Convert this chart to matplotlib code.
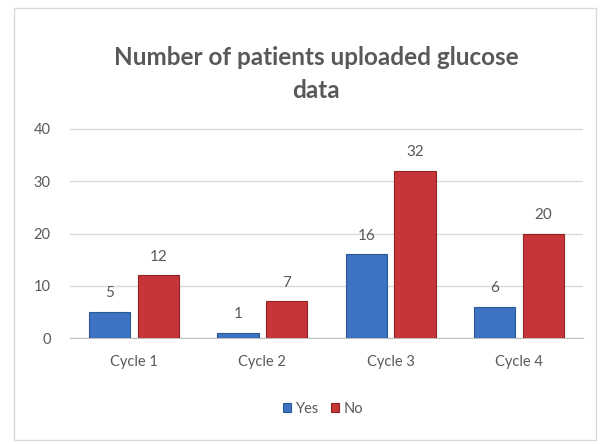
import matplotlib.pyplot as plt
import numpy as np
from matplotlib.patches import Rectangle

categories = ["Cycle 1", "Cycle 2", "Cycle 3", "Cycle 4"]
yes_values = [5, 1, 16, 6]
no_values = [12, 7, 32, 20]
series_names = ["Yes", "No"]

BLUE = "#3d73c2"
BLUE_EDGE = "#2b5897"
RED = "#c73539"
RED_EDGE = "#8e2225"
TEXT = "#595959"

plt.rcParams["font.family"] = ["Lato", "DejaVu Sans"]

fig = plt.figure(figsize=(6, 4.44), dpi=100)
ax = fig.add_axes([70 / 600, 1 - 338 / 444, 513 / 600, 209 / 444 * 44 / 40])

x = np.arange(len(categories))
width = 0.32
offset = 0.19

bars_yes = ax.bar(x - offset, yes_values, width, color=BLUE, edgecolor=BLUE_EDGE,
                  linewidth=0.8, label=series_names[0], zorder=3)
bars_no = ax.bar(x + offset, no_values, width, color=RED, edgecolor=RED_EDGE,
                 linewidth=0.8, label=series_names[1], zorder=3)

for bars in (bars_yes, bars_no):
    for bar in bars:
        h = bar.get_height()
        ax.text(bar.get_x() + bar.get_width() / 2, h + 2.2, f"{h:g}",
                ha="center", va="bottom", fontsize=11, color=TEXT)

ax.set_xlim(-0.5, len(categories) - 0.5)
ax.set_ylim(0, 44)
ax.set_yticks([0, 10, 20, 30, 40])
ax.set_xticks(x)
ax.set_xticklabels(categories)
ax.tick_params(axis="both", length=0, labelsize=10.5, colors=TEXT)
ax.tick_params(axis="y", pad=14)
ax.tick_params(axis="x", pad=12)
ax.grid(axis="y", color="#d9d9d9", linewidth=1, zorder=0)
for side in ["top", "right", "left"]:
    ax.spines[side].set_visible(False)
ax.spines["bottom"].set_color("#bfbfbf")

fig.text(316 / 600, 1 - 74 / 444, "Number of patients uploaded glucose\ndata",
         ha="center", va="center", fontsize=17.5, fontweight="bold", color=TEXT,
         linespacing=1.5)

fig.legend(loc="center", bbox_to_anchor=(323 / 600, 1 - 409 / 444), ncol=2,
           frameon=False, fontsize=10.5, handlelength=0.6, handleheight=0.6,
           handletextpad=0.3, columnspacing=0.8, labelcolor=TEXT)

fig.patches.append(Rectangle((14 / 600, 4 / 444), 582 / 600, 432 / 444,
                             transform=fig.transFigure, fill=False,
                             edgecolor="#d9d9d9", linewidth=1))

fig.savefig("out.png", dpi=100)
